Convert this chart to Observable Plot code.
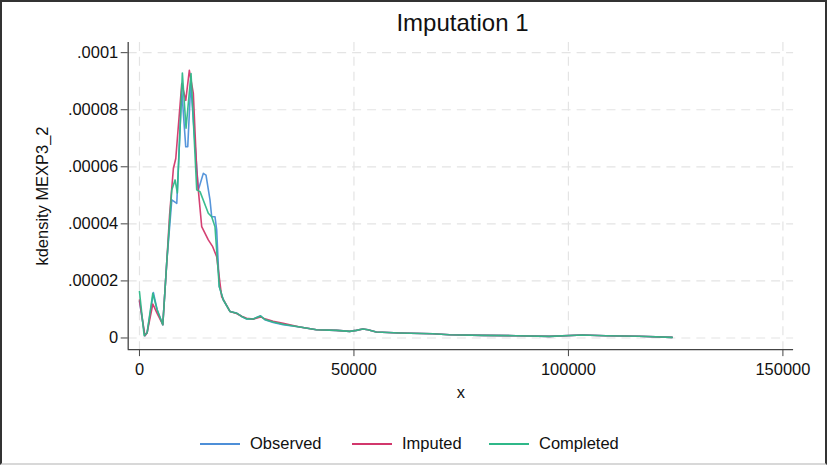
<!DOCTYPE html>
<html>
<head>
<meta charset="utf-8">
<script src="https://cdn.jsdelivr.net/npm/d3@7"></script>
<script src="https://cdn.jsdelivr.net/npm/@observablehq/plot@0.6"></script>
<style>
  html, body { margin: 0; padding: 0; background: #fff; }
  #wrap { position: relative; width: 827px; height: 465px; box-sizing: border-box;
          border-top: 2px solid #333; border-left: 2px solid #333; border-right: 2px solid #333; border-bottom: 2px solid #d8d8d8;
          font-family: "Liberation Sans", Arial, sans-serif; overflow: hidden; }
  #chart { position: absolute; left: -2px; top: -2px; }
  #title { position: absolute; left: 0; width: 921px; top: 7px; text-align: center; font-size: 24px; color: #111; }
  #legend { position: absolute; top: 432px; left: 0; width: 823px; font-size: 16.5px; color: #111; }
  .item { position: absolute; display: flex; align-items: center; }
  .sw { width: 40px; height: 0; border-top: 2px solid; margin-right: 10px; }
</style>
</head>
<body>
<div id="wrap">
  <div id="chart"></div>
  <div id="title">Imputation 1</div>
  <div id="legend"></div>
</div>
<script>
// ---- data ----
const seriesNames = ["Observed", "Imputed", "Completed"];
const seriesColors = ["#4d8fd8", "#d2376c", "#2fb889"];

const observedX = [0,1256,1790,3256,4116,5442,6372,7535,8698,9860,10791,11256,11954,13721,14884,15512,16442,16837,17605,18000,18605,19535,21093,22651,23814,24977,26512,28233,29233,31163,33488,37372,41256,45907,49000,50558,52093,53256,55209,60628,68372,72256,80000,87767,95512,103256,108698,116442,124186];
const observedY = [1.28e-5,0.8e-6,1.85e-6,1.59e-5,9.9e-6,4.65e-6,2.67e-5,4.84e-5,4.72e-5,8.68e-5,6.70e-5,6.70e-5,8.92e-5,5.19e-5,5.77e-5,5.71e-5,4.84e-5,4.25e-5,4.25e-5,3.79e-5,1.80e-5,1.34e-5,9.3e-6,8.74e-6,7.55e-6,6.64e-6,6.64e-6,7.8e-6,6.4e-6,5.45e-6,4.65e-6,3.85e-6,2.9e-6,2.66e-6,2.31e-6,2.66e-6,3.15e-6,2.9e-6,2.1e-6,1.75e-6,1.5e-6,1.15e-6,0.91e-6,0.8e-6,0.56e-6,1.05e-6,0.8e-6,0.63e-6,0.21e-6];

const imputedX = [0,1256,1790,3116,4116,5442,6372,7023,7907,8465,9860,10791,11628,12558,13349,13721,14512,16047,17070,18000,19163,21093,22651,23814,24977,26512,28233,29233,31163,33488,37372,41256,45907,49000,50558,52093,53256,55209,60628,68372,72256,80000,87767,95512,103256,108698,116442,124186];
const imputedY = [1.33e-5,0.8e-6,1.85e-6,1.19e-5,8.6e-6,4.65e-6,2.67e-5,4.31e-5,5.94e-5,6.29e-5,8.92e-5,8.33e-5,9.38e-5,8.57e-5,5.88e-5,5.19e-5,3.9e-5,3.44e-5,3.2e-5,2.85e-5,1.45e-5,9.3e-6,8.6e-6,7.6e-6,6.9e-6,6.6e-6,7.4e-6,6.7e-6,5.87e-6,5.17e-6,3.85e-6,2.9e-6,2.66e-6,2.31e-6,2.66e-6,3.15e-6,2.9e-6,2.1e-6,1.75e-6,1.5e-6,1.15e-6,0.91e-6,0.8e-6,0.56e-6,1.05e-6,0.8e-6,0.63e-6,0.21e-6];

const completedX = [0,1093,1790,3116,4116,5442,6372,7535,8302,8837,10000,10860,12023,13349,14116,16047,16837,17605,18605,19535,21093,22651,23814,24977,26512,28233,29233,31163,33488,37372,41256,45907,49000,50558,52093,53256,55209,60628,68372,72256,80000,87767,95512,103256,108698,116442,124186];
const completedY = [1.63e-5,0.8e-6,1.85e-6,1.57e-5,9.9e-6,4.65e-6,2.67e-5,5.19e-5,5.54e-5,5.08e-5,9.29e-5,7.35e-5,9.27e-5,5.19e-5,5.13e-5,4.37e-5,4.25e-5,3.9e-5,1.8e-5,1.34e-5,9.3e-6,8.7e-6,7.55e-6,6.7e-6,6.64e-6,7.7e-6,6.5e-6,5.6e-6,4.8e-6,3.85e-6,2.9e-6,2.66e-6,2.31e-6,2.66e-6,3.15e-6,2.9e-6,2.1e-6,1.75e-6,1.5e-6,1.15e-6,0.91e-6,0.8e-6,0.56e-6,1.05e-6,0.8e-6,0.63e-6,0.21e-6];

const xTicks = [0, 50000, 100000, 150000];
const yTicks = [0, 0.00002, 0.00004, 0.00006, 0.00008, 0.0001];
const xDomain = [-2628, 152488];
const yDomain = [-4.09e-6, 1.036e-4];

// ---- build table ----
const rows = [];
[[observedX, observedY], [imputedX, imputedY], [completedX, completedY]].forEach(([xs, ys], i) => {
  xs.forEach((x, j) => rows.push({series: seriesNames[i], x, y: ys[j]}));
});

const yFmt = d => d === 0 ? "0" : d.toFixed(5).replace(/^0/, "").replace(/0+$/, "");
const font = "Liberation Sans, Arial, sans-serif";

const chart = Plot.plot({
  width: 827, height: 465,
  marginLeft: 128, marginRight: 32, marginTop: 42, marginBottom: 115,
  style: {fontFamily: font, fontSize: "16.5px", color: "#111", background: "transparent"},
  x: {domain: xDomain},
  y: {domain: yDomain},
  color: {domain: seriesNames, range: seriesColors},
  marks: [
    Plot.ruleY(yTicks, {stroke: "#e4e4e4", strokeWidth: 1.2, strokeDasharray: "9,6"}),
    Plot.ruleX(xTicks, {stroke: "#e4e4e4", strokeWidth: 1.2, strokeDasharray: "9,6"}),
    Plot.line(rows, {x: "x", y: "y", z: "series", stroke: "series", strokeWidth: 1.6, strokeOpacity: 0.95, curve: "linear"}),
    Plot.ruleX([xDomain[0]], {stroke: "#444", strokeWidth: 1.3}),
    Plot.ruleY([yDomain[0]], {stroke: "#444", strokeWidth: 1.3}),
    Plot.axisY({ticks: yTicks, tickFormat: yFmt, tickSize: 7, tickPadding: 3, stroke: "#444", fontSize: 16.5,
                label: "kdensity MEXP3_2", labelAnchor: "center", labelArrow: "none", labelOffset: 92}),
    Plot.axisX({ticks: xTicks, tickFormat: d => String(d), tickSize: 7, tickPadding: 7, stroke: "#444", fontSize: 16.5,
                label: "x", labelAnchor: "center", labelArrow: "none", labelOffset: 48})
  ]
});
document.getElementById("chart").appendChild(chart);

// ---- legend ----
const legend = document.getElementById("legend");
const legendLeft = [198, 350, 487];
seriesNames.forEach((name, i) => {
  const it = document.createElement("div");
  it.className = "item";
  it.style.left = legendLeft[i] + "px";
  const sw = document.createElement("div");
  sw.className = "sw";
  sw.style.borderTopColor = seriesColors[i];
  const t = document.createElement("span");
  t.textContent = name;
  it.appendChild(sw); it.appendChild(t);
  legend.appendChild(it);
});
</script>
</body>
</html>
